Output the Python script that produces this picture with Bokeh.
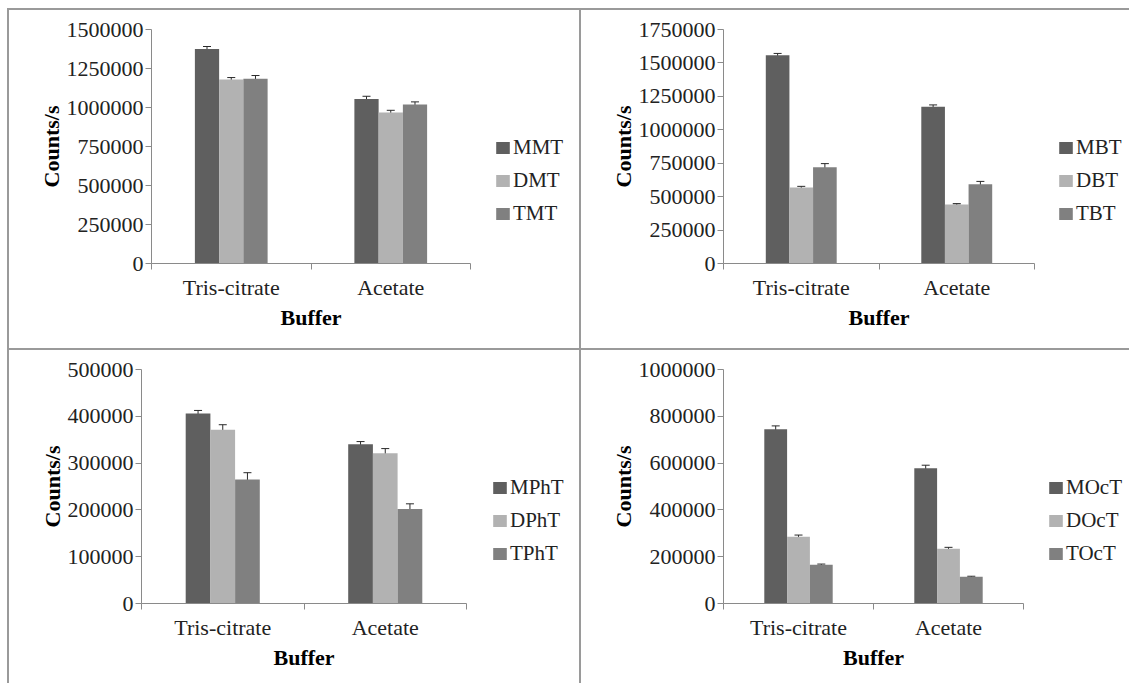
from bokeh.plotting import figure
from bokeh.models import (ColumnDataSource, Range1d, LinearAxis, FixedTicker, Title, Spacer,
                          BasicTickFormatter, Legend, LegendItem, Whisker, TeeHead, Div)
from bokeh.transform import dodge
from bokeh.layouts import column, row
from bokeh.embed import file_html
from bokeh.resources import INLINE

categories = ["Tris-citrate", "Acetate"]

# Panel 1: methyltins
p1_names = ["MMT", "DMT", "TMT"]
p1_vals = [[1375000, 1055000], [1180000, 968000], [1185000, 1020000]]
p1_errs = [[16000, 17000], [12000, 14000], [20000, 16000]]
p1_ticks = [0, 250000, 500000, 750000, 1000000, 1250000, 1500000]

# Panel 2: butyltins
p2_names = ["MBT", "DBT", "TBT"]
p2_vals = [[1557000, 1173000], [568000, 442000], [720000, 592000]]
p2_errs = [[14000, 13000], [9000, 6000], [27000, 22000]]
p2_ticks = [0, 250000, 500000, 750000, 1000000, 1250000, 1500000, 1750000]

# Panel 3: phenyltins
p3_names = ["MPhT", "DPhT", "TPhT"]
p3_vals = [[406000, 340500], [371000, 321000], [265000, 202000]]
p3_errs = [[6500, 5500], [11000, 10000], [14500, 11000]]
p3_ticks = [0, 100000, 200000, 300000, 400000, 500000]

# Panel 4: octyltins
p4_names = ["MOcT", "DOcT", "TOcT"]
p4_vals = [[745000, 578000], [285000, 233500], [165500, 114000]]
p4_errs = [[14000, 13000], [7500, 6500], [3000, 2500]]
p4_ticks = [0, 200000, 400000, 600000, 800000, 1000000]

colors = ["#5f5f5f", "#b2b2b2", "#808080"]
FONT = "Liberation Serif"
LINE = "#8a8a8a"


def make_panel(width, height, left, axis_w, top, frame_h, ticks, names, vals, errs, leg_x):
    n = len(categories)
    frame_w = width - left
    # numeric span so that the category axis occupies axis_w pixels, rest holds the legend
    x_end = n * frame_w / axis_w
    p = figure(width=width, height=height,
               x_range=Range1d(0, x_end),
               y_range=Range1d(ticks[0], ticks[-1]),
               x_axis_type=None, y_axis_type=None,
               toolbar_location=None, output_backend="svg",
               min_border_left=left, min_border_right=0,
               min_border_top=top, min_border_bottom=height - top - frame_h)
    p.outline_line_color = None
    p.background_fill_color = "white"
    p.border_fill_color = "white"

    data = {"cat": categories, "pos": [i + 0.5 for i in range(n)]}
    for nm, v, e in zip(names, vals, errs):
        data[nm] = v
        data[nm + "_lo"] = [a - b for a, b in zip(v, e)]
        data[nm + "_hi"] = [a + b for a, b in zip(v, e)]
    src = ColumnDataSource(data)

    bw = 0.152
    offsets = [-bw, 0.0, bw]
    items = []
    for nm, off, c in zip(names, offsets, colors):
        r = p.vbar(x=dodge("pos", off), top=nm, width=bw, bottom=0,
                   source=src, fill_color=c, line_color=None)
        items.append(LegendItem(label=nm, renderers=[r]))
        w = Whisker(base=dodge("pos", off), upper=nm + "_hi", lower=nm + "_lo",
                    source=src, dimension="height", line_color="#2a2a2a", line_width=1,
                    upper_head=TeeHead(size=8, line_color="#2a2a2a", line_width=1),
                    lower_head=TeeHead(size=8, line_color="#2a2a2a", line_width=1))
        p.add_layout(w)

    yax = LinearAxis(ticker=FixedTicker(ticks=ticks),
                     formatter=BasicTickFormatter(use_scientific=False),
                     axis_label="Counts/s")
    yax.axis_line_color = LINE
    yax.major_tick_line_color = LINE
    yax.major_tick_out = 6
    yax.major_tick_in = 0
    yax.minor_tick_line_color = None
    yax.major_label_standoff = 2
    yax.major_label_text_font = FONT
    yax.major_label_text_font_size = "22px"
    yax.major_label_text_color = "#222222"
    yax.axis_label_text_font = FONT
    yax.axis_label_text_font_size = "22px"
    yax.axis_label_text_font_style = "bold"
    yax.axis_label_text_color = "black"
    yax.axis_label_standoff = 0
    p.add_layout(yax, "left")

    xax = LinearAxis(ticker=FixedTicker(ticks=[i + 0.5 for i in range(n)],
                                        minor_ticks=list(range(n + 1))),
                     major_label_overrides={i + 0.5: c for i, c in enumerate(categories)},
                     bounds=(0, n))
    xax.axis_line_color = LINE
    xax.major_tick_line_color = None
    xax.major_tick_out = 6
    xax.major_tick_in = 0
    xax.minor_tick_line_color = LINE
    xax.minor_tick_out = 6
    xax.minor_tick_in = 0
    xax.major_label_standoff = 5
    xax.major_label_text_font = FONT
    xax.major_label_text_font_size = "22px"
    xax.major_label_text_color = "#222222"
    p.add_layout(xax, "below")

    # x-axis title centred under the category axis (not under the whole frame)
    xt = Title(text="Buffer", align="left", offset=axis_w / 2 - 30.5,
               text_font=FONT, text_font_size="22px", text_font_style="bold",
               text_color="black", standoff=1)
    p.add_layout(xt, "below")

    leg = Legend(items=items, location=(leg_x, 37), orientation="vertical",
                 border_line_color=None, background_fill_alpha=0,
                 padding=0, margin=0, spacing=8,
                 glyph_width=17, glyph_height=15, label_standoff=2,
                 label_text_font=FONT, label_text_font_size="21px",
                 label_text_color="#222222")
    p.add_layout(leg, "center")
    return p


TOP_H = 338
BOT_H = 333
LW = 570
RW = 548

p1 = make_panel(LW, TOP_H, 142, 319, 19, 234, p1_ticks, p1_names, p1_vals, p1_errs, 343)
p2 = make_panel(RW, TOP_H, 142, 311, 19, 234, p2_ticks, p2_names, p2_vals, p2_errs, 334)
p3 = make_panel(LW, BOT_H, 132, 325, 19, 234, p3_ticks, p3_names, p3_vals, p3_errs, 350)
p4 = make_panel(RW, BOT_H, 142, 300, 19, 234, p4_ticks, p4_names, p4_vals, p4_errs, 324)


def hline(w):
    return Div(text="", width=w, height=2, margin=0, styles={"background-color": "#9a9a9a"})


def vline(h):
    return Div(text="", width=2, height=h, margin=0, styles={"background-color": "#9a9a9a"})


TOTAL_W = 2 + LW + 2 + RW
grid = column(
    hline(TOTAL_W),
    row(vline(TOP_H), p1, vline(TOP_H), p2, spacing=0),
    hline(TOTAL_W),
    row(vline(BOT_H), p3, vline(BOT_H), p4, spacing=0),
    spacing=0,
)
layout = column(
    Spacer(width=TOTAL_W + 7, height=8, margin=0),
    row(Spacer(width=7, height=10, margin=0), grid, spacing=0),
    spacing=0,
)

with open("out.html", "w") as f:
    f.write(file_html(layout, INLINE))
